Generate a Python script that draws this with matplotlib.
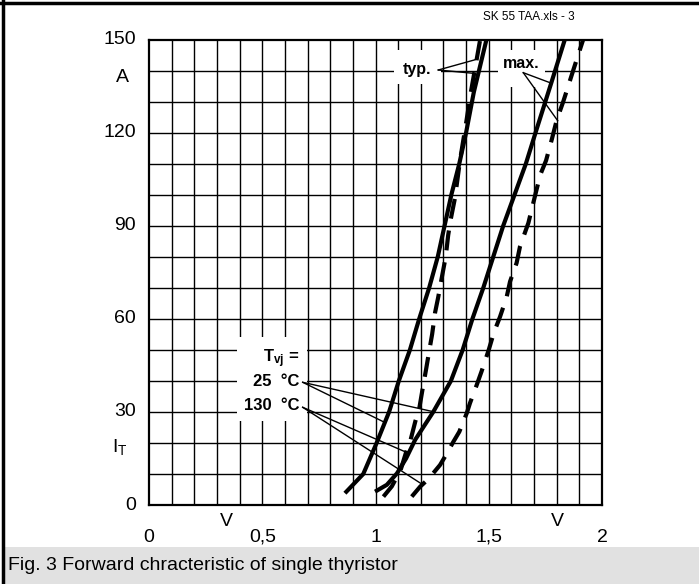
import matplotlib
matplotlib.use('Agg')
import matplotlib.pyplot as plt
from matplotlib.patches import Rectangle

plt.rcParams['font.family'] = ['Liberation Sans', 'DejaVu Sans']
plt.rcParams['mathtext.fontset'] = 'custom'
plt.rcParams['mathtext.rm'] = 'Liberation Sans'
plt.rcParams['mathtext.bf'] = 'Liberation Sans:bold'
plt.rcParams['mathtext.it'] = 'Liberation Sans:italic'

# ---------------- data (V_T in V, I_T in A) ----------------
typ25_v = [0.865, 0.946, 1.005, 1.06, 1.103, 1.152, 1.193, 1.237, 1.275, 1.305, 1.335, 1.37, 1.40, 1.434, 1.49]
typ25_i = [3.8, 10, 20, 30, 40, 50, 60, 70, 80, 90, 100, 110, 120, 133, 150]

typ130_v = [1.035, 1.072, 1.111, 1.135, 1.155, 1.176, 1.193, 1.207, 1.224, 1.238, 1.25, 1.263, 1.277,
            1.292, 1.31, 1.321, 1.332, 1.351, 1.362, 1.373, 1.402, 1.421, 1.461]
typ130_i = [2.7, 6, 11.3, 17, 21, 27, 31, 37, 44, 50, 55, 62, 67,
            73, 80, 87, 92, 99, 105, 111, 124, 133, 149.5]

max25_v = [0.998, 1.05, 1.095, 1.135, 1.175, 1.255, 1.333, 1.385, 1.428, 1.476, 1.52, 1.564, 1.614,
           1.664, 1.711, 1.776, 1.836]
max25_i = [4.3, 6.5, 10.2, 15, 21, 30, 40, 50, 60, 70, 80, 90, 100,
           110, 121, 136, 150]

max130_v = [1.16, 1.197, 1.235, 1.285, 1.307, 1.344, 1.37, 1.403, 1.417, 1.447, 1.468, 1.50, 1.522,
            1.55, 1.579, 1.594, 1.623, 1.638, 1.675, 1.711, 1.728, 1.753, 1.778, 1.80, 1.829, 1.874, 1.917]
max130_i = [2.7, 5.9, 8.5, 12.9, 15.6, 20.4, 23.6, 29.6, 32.8, 38.7, 43, 50, 55.4,
            60.7, 67, 72, 78, 83.3, 90.9, 101.6, 106.5, 111, 117.7, 124, 130, 140.3, 150]

x_ticks = [0, 0.5, 1, 1.5, 2]
x_tick_labels = ['0', '0,5', '1', '1,5', '2']
y_ticks = [0, 30, 60, 90, 120, 150]
y_tick_labels = ['0', '30', '60', '90', '120', '150']

# ---------------- figure ----------------
W, H = 699, 584
fig = plt.figure(figsize=(W / 100, H / 100), dpi=100)
fig.patch.set_facecolor('white')

L, R, T, B = 149, 602, 39.5, 505
ax = fig.add_axes([L / W, 1 - B / H, (R - L) / W, (B - T) / H])
ax.set_xlim(0, 2)
ax.set_ylim(0, 150)


def pv(x):  # pixel x -> data V
    return (x - L) / (R - L) * 2.0


def pi(y):  # pixel y -> data I
    return (B - y) / (B - T) * 150.0


# grid
for k in range(1, 20):
    ax.axvline(k * 0.1, color='black', lw=1.0, zorder=1)
for k in range(1, 15):
    ax.axhline(k * 10, color='black', lw=1.0, zorder=1)
for s in ax.spines.values():
    s.set_linewidth(1.6)
ax.set_xticks([])
ax.set_yticks([])

# white label boxes over grid
for (x0, y0, x1, y1) in [(237, 337, 307, 421), (394, 50, 441, 84), (498, 50, 545, 87)]:
    ax.add_patch(Rectangle((pv(x0), pi(y1)), pv(x1) - pv(x0), pi(y0) - pi(y1),
                           facecolor='white', edgecolor='none', zorder=2))

# curves
lw = 3.0
ax.plot(typ25_v, typ25_i, color='black', lw=lw, solid_capstyle='butt', zorder=4)
ax.plot(max25_v, max25_i, color='black', lw=lw, solid_capstyle='butt', zorder=4)
ax.plot(typ130_v, typ130_i, color='black', lw=lw, ls=(0, (4.8, 2.9)), dash_capstyle='butt', zorder=4)
ax.plot(max130_v, max130_i, color='black', lw=lw, ls=(0, (4.8, 2.9)), dash_capstyle='butt', zorder=4)

# labels inside plot
fs_lab = 11.5
ax.text(pv(417), pi(70), 'typ.', fontsize=fs_lab, fontweight='bold', ha='center', va='center', zorder=5)
ax.text(pv(521), pi(64), 'max.', fontsize=fs_lab, fontweight='bold', ha='center', va='center', zorder=5)
ax.text(pv(299), pi(359), r'$\mathbf{T_{vj}}$ =', fontsize=fs_lab + 0.5, fontweight='bold',
        ha='right', va='center', zorder=5)
ax.text(pv(299), pi(382), '25  °C', fontsize=fs_lab + 0.5, fontweight='bold', ha='right', va='center', zorder=5)
ax.text(pv(299), pi(405), '130  °C', fontsize=fs_lab + 0.5, fontweight='bold', ha='right', va='center', zorder=5)

# pointer lines
plw = 1.0
pointers = [
    ((302.7, 382.3), (433.3, 411.7)),
    ((302.7, 382.3), (383.3, 421.7)),
    ((302.7, 407.3), (405.0, 451.7)),
    ((302.7, 407.3), (423.3, 485.0)),
    ((438.3, 70.0), (476.7, 59.3)),
    ((438.3, 70.0), (473.3, 73.3)),
    ((523.3, 72.7), (550.0, 82.7)),
    ((523.3, 72.7), (557.7, 120.7)),
]
for (a, b) in pointers:
    ax.plot([pv(a[0]), pv(b[0])], [pi(a[1]), pi(b[1])], color='black', lw=plw, zorder=3)

# axis tick labels (outside)
fs = 14
for v, lab in zip(y_ticks, y_tick_labels):
    ax.text(pv(136), v, lab, fontsize=fs, ha='right', va='center', clip_on=False)
ax.text(pv(122), pi(78), 'A', fontsize=fs, ha='center', va='center', clip_on=False)
ax.text(pv(120), pi(447), r'I$_\mathrm{T}$', fontsize=fs, ha='center', va='center', clip_on=False)
for v, lab in zip(x_ticks, x_tick_labels):
    ax.text(v, pi(537), lab, fontsize=fs, ha='center', va='center', clip_on=False)
ax.text(pv(226), pi(521), 'V', fontsize=fs, ha='center', va='center', clip_on=False)
ax.text(pv(557), pi(521), 'V', fontsize=fs, ha='center', va='center', clip_on=False)

# top-right file label
fig.text(575 / W, 1 - 17 / H, 'SK 55 TAA.xls - 3', fontsize=8.5, ha='right', va='center')

# caption band
fig.patches.append(Rectangle((3 / W, 0), (W - 3) / W, (H - 547) / H, transform=fig.transFigure,
                             facecolor='#e1e1e1', edgecolor='none', zorder=0))
fig.text(8 / W, 1 - 566 / H, 'Fig. 3 Forward chracteristic of single thyristor', fontsize=14,
         ha='left', va='center')

# outer frame lines (top and left)
fig.add_artist(plt.Line2D([0, 1], [1 - 2.5 / H, 1 - 2.5 / H], color='black', lw=2.5, transform=fig.transFigure))
fig.add_artist(plt.Line2D([2.5 / W, 2.5 / W], [0, 1], color='black', lw=2.5, transform=fig.transFigure))

fig.savefig('out.png', dpi=100)
